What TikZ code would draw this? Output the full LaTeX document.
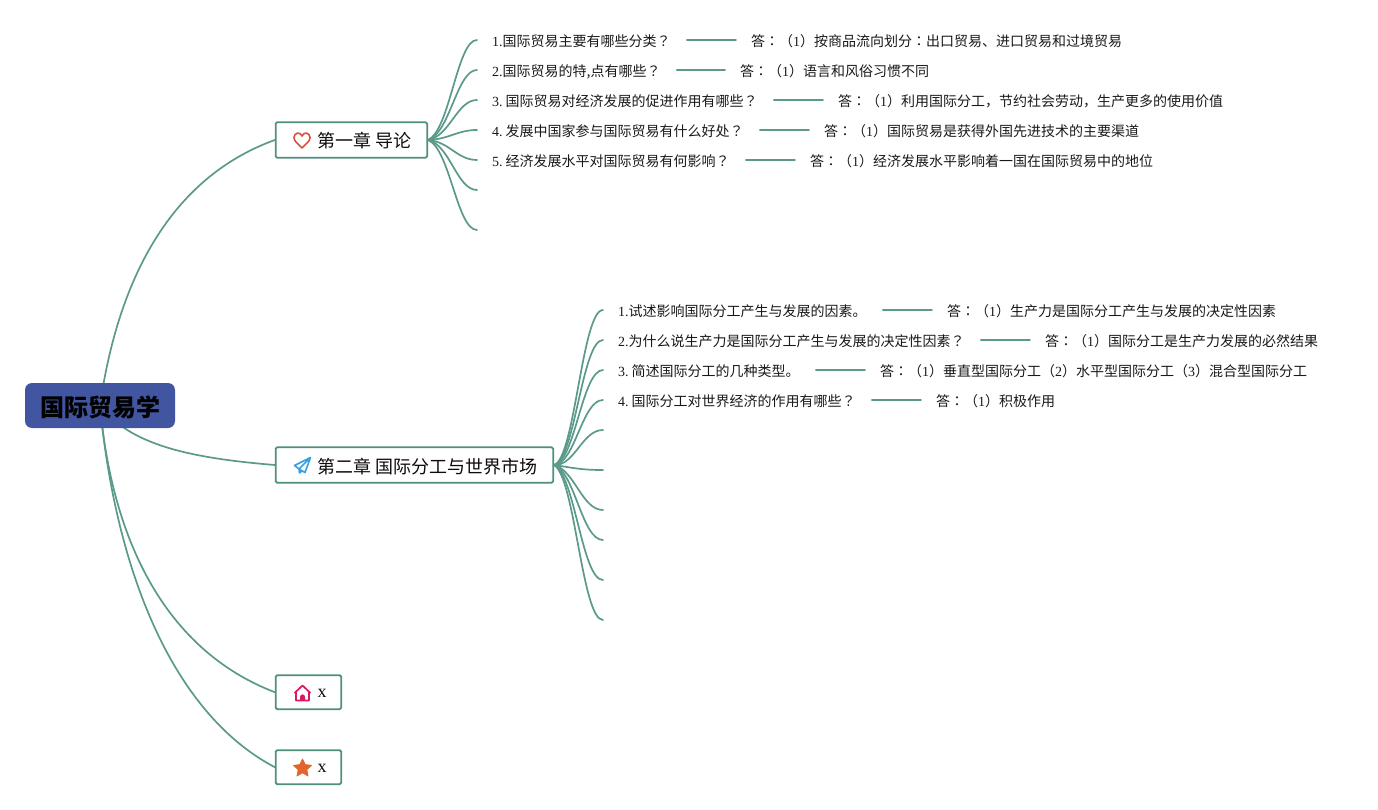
\documentclass[tikz,border=0pt]{standalone}
\usepackage{fontspec}
\usetikzlibrary{backgrounds}
\setmainfont{Noto Sans CJK SC}
\newfontfamily\lat{Liberation Serif}
\newfontfamily\tcf{Noto Sans CJK TC}
\newcommand{\LL}[1]{{\lat #1}}
\newcommand{\PP}[1]{{\tcf #1}}
\newcommand{\NUM}[1]{{\lat #1}\hspace{3pt}}
\newcommand{\ANS}{答\PP{：}\PP{（}\LL{1}\PP{）}}
\definecolor{lnk}{HTML}{5B9A8B}
\definecolor{boxc}{HTML}{4F8F80}
\definecolor{rootc}{HTML}{4155A0}
\definecolor{heartc}{HTML}{D9503F}
\definecolor{planec}{HTML}{3AA0E0}
\definecolor{housec}{HTML}{D81B60}
\definecolor{starc}{HTML}{E0652E}
\tikzset{
  x=1pt,y=-1pt,
  link/.style={draw=lnk,line width=1.7pt,line cap=round},
  qline/.style={link,shorten <=16pt,shorten >=15pt},
  txt/.style={anchor=west,inner sep=0pt,font=\fontsize{14}{14}\selectfont,text height=14pt,text depth=0pt,text=black!90},
  txtb/.style={txt,text height=13pt},
  chap/.style={draw=boxc,line width=1.8pt,rounded corners=1.5pt,fill=white,anchor=west,inner sep=0pt,minimum height=35.5pt,font=\fontsize{18}{18}\selectfont,text=black!95,text height=16pt,text depth=0pt},
  leaf/.style={chap,minimum height=34pt,text height=10pt},
  rootbox/.style={fill=rootc,rounded corners=7pt,minimum width=150pt,minimum height=45pt,inner sep=0pt,font=\fontsize{24}{24}\selectfont\bfseries,text height=21pt,text depth=0pt},
}
\newcommand{\CT}[2]{\makebox[#1pt][l]{\hspace{42pt}#2}}
\begin{document}
\begin{tikzpicture}
\useasboundingbox (0,0) rectangle (1378,810);
\node[rootbox] (root) at (100,405.5) {\hspace{0.5pt}国际贸易学};
\node[chap] (c1) at (274.8,140) {\CT{151.5}{第一章 导论}};
\node[chap] (c2) at (274.8,465) {\CT{277.5}{第二章 国际分工与世界市场}};
\node[leaf] (c3) at (274.8,692.2) {\CT{65.5}{\LL{x}}};
\node[leaf] (c4) at (274.8,767.2) {\CT{65.5}{\LL{x}}};
% chapter 1 items
\node[txt] (q11) at (492,40) {\LL{1.}国际贸易主要有哪些分类\PP{？}};
\node[txt] (a11) at (751,40) {\ANS 按商品流向划分\PP{：}出口贸易、进口贸易和过境贸易};
\node[txt] (q12) at (492,70) {\LL{2.}国际贸易的特,点有哪些\PP{？}};
\node[txt] (a12) at (740,70) {\ANS 语言和风俗习惯不同};
\node[txt] (q13) at (492,100) {\NUM{3.}国际贸易对经济发展的促进作用有哪些\PP{？}};
\node[txt] (a13) at (838,100) {\ANS 利用国际分工，节约社会劳动，生产更多的使用价值};
\node[txt] (q14) at (492,130) {\NUM{4.}发展中国家参与国际贸易有什么好处\PP{？}};
\node[txt] (a14) at (824,130) {\ANS 国际贸易是获得外国先进技术的主要渠道};
\node[txt] (q15) at (492,160) {\NUM{5.}经济发展水平对国际贸易有何影响\PP{？}};
\node[txt] (a15) at (810,160) {\ANS 经济发展水平影响着一国在国际贸易中的地位};
% chapter 2 items
\node[txtb] (q21) at (618,310) {\LL{1.}试述影响国际分工产生与发展的因素。};
\node[txtb] (a21) at (947,310) {\ANS 生产力是国际分工产生与发展的决定性因素};
\node[txtb] (q22) at (618,340) {\LL{2.}为什么说生产力是国际分工产生与发展的决定性因素\PP{？}};
\node[txtb] (a22) at (1045,340) {\ANS 国际分工是生产力发展的必然结果};
\node[txtb] (q23) at (618,370) {\NUM{3.}简述国际分工的几种类型。};
\node[txtb] (a23) at (880,370) {\ANS 垂直型国际分工\PP{（}\LL{2}\PP{）}水平型国际分工\PP{（}\LL{3}\PP{）}混合型国际分工};
\node[txtb] (q24) at (618,400) {\NUM{4.}国际分工对世界经济的作用有哪些\PP{？}};
\node[txtb] (a24) at (936,400) {\ANS 积极作用};
\begin{pgfonlayer}{background}
\draw[link] (root.center) .. controls (118,280) and (170,178) .. (c1.west);
\draw[link] (root.center) .. controls (130,445) and (190,458) .. (c2.west);
\draw[link] (root.center) .. controls (112,540) and (165,650) .. (c3.west);
\draw[link] (root.center) .. controls (115,565) and (170,712) .. (c4.west);
\foreach \ty in {40,70,100,130,160,190,230}{
  \draw[link] (c1.east) .. controls (450,\ty*0.1+126) and (457,\ty) .. (477,\ty);
}
\foreach \ty in {310,340,370,400,430,470,510,540,580,620}{
  \draw[link] (c2.east) .. controls (575,\ty*0.06+440) and (582,\ty) .. (603,\ty);
}
\foreach \a/\b in {q11/a11,q12/a12,q13/a13,q14/a14,q15/a15,q21/a21,q22/a22,q23/a23,q24/a24}{
  \draw[qline] (\a.east) -- (\b.west);
}
\end{pgfonlayer}
% icons
\draw[draw=heartc,line width=1.6pt,line join=round] (302,148) .. controls (297,143) and (294,141) .. (294,137.5) .. controls (294,133) and (300,131) .. (302,136) .. controls (304,131) and (310,133) .. (310,137.5) .. controls (310,141) and (307,143) .. (302,148) -- cycle;
\draw[draw=planec,line width=1.6pt,line join=round] (310.5,457.5) -- (294.5,465.5) -- (299,469) -- (310.5,457.5) -- (305,472.5) -- (299,469) -- (299.5,473) -- (302,471);
\draw[draw=housec,line width=1.7pt,line join=round] (294.5,693) -- (302.5,685.5) -- (310.5,693) (296,691.5) -- (296,700.5) -- (309,700.5) -- (309,691.5);
\fill[housec] (300,700.5) -- (300,697) .. controls (300,693.5) and (305,693.5) .. (305,697) -- (305,700.5) -- cycle;
\fill[starc,line join=round,draw=starc,line width=.8pt] (302.5,759) -- (305.2,764.6) -- (311.5,765.4) -- (306.8,769.6) -- (308,776) -- (302.5,772.8) -- (297,776) -- (298.2,769.6) -- (293.5,765.4) -- (299.8,764.6) -- cycle;
\end{tikzpicture}
\end{document}
